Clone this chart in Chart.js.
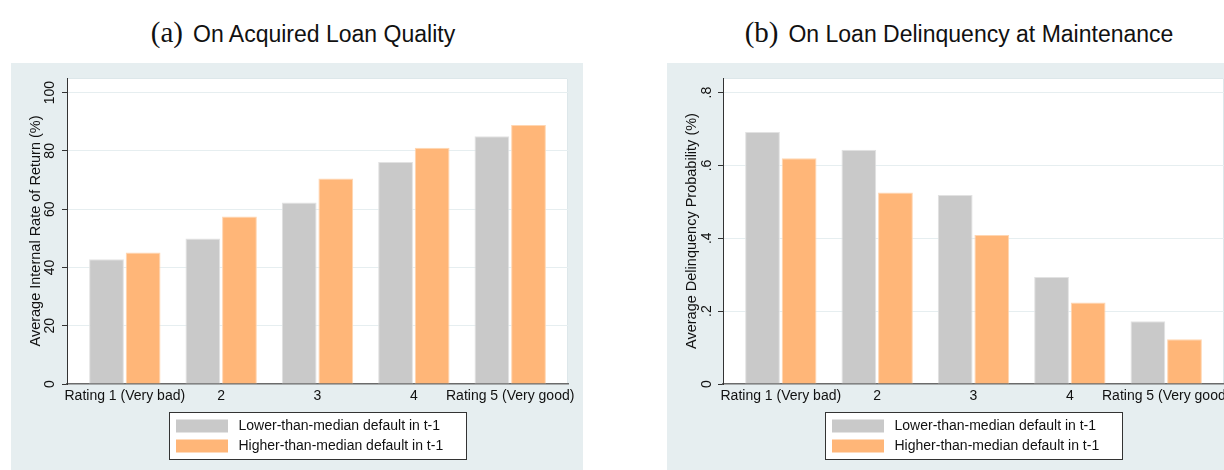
<!DOCTYPE html>
<html>
<head>
<meta charset="utf-8">
<script src="https://cdn.jsdelivr.net/npm/chart.js@4"></script>
<style>
  body { margin: 0; width: 1224px; height: 470px; overflow: hidden; background: #fff; position: relative;
         font-family: "Liberation Sans", Arial, sans-serif; }
  .title { position: absolute; top: 17px; width: 600px; text-align: center; font-size: 23px; line-height: 30px;
           color: #111; white-space: nowrap; }
  .title .tag { font-family: "Liberation Serif", serif; font-size: 29px; margin-right: 10px; }
  .panel { position: absolute; top: 63px; width: 572px; height: 407px; background: #e6eef0; }
</style>
</head>
<body>
<div class="title" style="left:3px"><span class="tag">(a)</span>On Acquired Loan Quality</div>
<div class="title" style="left:659px"><span class="tag">(b)</span>On Loan Delinquency at Maintenance</div>
<div class="panel" style="left:11px"><canvas id="chartA"></canvas></div>
<div class="panel" style="left:667px"><canvas id="chartB"></canvas></div>
<script>
const categories = ["Rating 1 (Very bad)", "2", "3", "4", "Rating 5 (Very good)"];
const seriesNames = ["Lower-than-median default in t-1", "Higher-than-median default in t-1"];
const irrLow = [42.8, 49.9, 62.3, 76.2, 85.0];
const irrHigh = [45.1, 57.5, 70.5, 81.1, 88.9];
const delinqLow = [0.692, 0.643, 0.519, 0.294, 0.172];
const delinqHigh = [0.620, 0.526, 0.409, 0.224, 0.123];
const irrTicks = [0, 20, 40, 60, 80, 100];
const irrTickLabels = ["0", "20", "40", "60", "80", "100"];
const delinqTicks = [0, 0.2, 0.4, 0.6, 0.8];
const delinqTickLabels = ["0", ".2", ".4", ".6", ".8"];

const grey = "#c9c9c9", orange = "#ffb678";
const fontFam = '"Liberation Sans", Arial, sans-serif';
Chart.defaults.font.family = fontFam;

// white plot region on the blue-grey panel
const plotBg = {
  id: "plotBg",
  beforeDraw(chart) {
    const a = chart.chartArea, ctx = chart.ctx;
    ctx.save();
    ctx.fillStyle = "#fff";
    ctx.fillRect(a.left, a.top, a.right - a.left, a.bottom - a.top);
    ctx.strokeStyle = "#dde7ea";
    ctx.lineWidth = 1;
    ctx.beginPath();
    ctx.moveTo(a.left, a.top + 0.5); ctx.lineTo(a.right - 0.5, a.top + 0.5); ctx.lineTo(a.right - 0.5, a.bottom);
    ctx.stroke();
    ctx.restore();
  }
};

// stacked legend in a framed box, centred under the plot
const boxLegend = {
  id: "boxLegend",
  afterDraw(chart) {
    const ctx = chart.ctx, a = chart.chartArea, sets = chart.data.datasets;
    ctx.save();
    ctx.font = "14px " + fontFam;
    const textW = Math.max(...sets.map(d => ctx.measureText(d.label).width));
    const w = Math.round(7 + 52 + 10 + textW + 23), h = 47;
    const x = Math.round((a.left + a.right) / 2 - w / 2) + 0.5;
    const y = Math.round(a.bottom + 28) + 0.5;
    ctx.fillStyle = "#fff";
    ctx.fillRect(x, y, w, h);
    ctx.strokeStyle = "#333";
    ctx.lineWidth = 1;
    ctx.strokeRect(x, y, w, h);
    sets.forEach((d, i) => {
      const cy = y + 13.5 + i * 20;
      ctx.fillStyle = d.backgroundColor;
      ctx.fillRect(x + 6.5, cy - 6.5, 52, 13);
      ctx.fillStyle = "#111";
      ctx.textBaseline = "middle";
      ctx.fillText(d.label, x + 69, cy);
    });
    ctx.restore();
  }
};

function makeChart(id, low, high, yMax, ticks, tickLabels, yTitle, tickPad) {
  return new Chart(document.getElementById(id), {
    type: "bar",
    data: {
      datasets: [
        { label: seriesNames[0], data: low.map((v, i) => ({ x: i + 1, y: v })),
          backgroundColor: grey, borderColor: "#e2e2e2", borderWidth: 1 },
        { label: seriesNames[1], data: high.map((v, i) => ({ x: i + 1, y: v })),
          backgroundColor: orange, borderColor: "#ffd6b2", borderWidth: 1 },
      ],
    },
    options: {
      responsive: true,
      maintainAspectRatio: false,
      animation: false,
      layout: { padding: { top: 15, right: 15, bottom: 66, left: 0 } },
      datasets: { bar: { categoryPercentage: 0.76, barPercentage: 0.95 } },
      plugins: { legend: { display: false }, tooltip: { enabled: false } },
      scales: {
        x: {
          type: "linear",
          min: 0.4,
          max: 5.6,
          offset: false,
          afterBuildTicks: (axis) => { axis.ticks = categories.map((c, i) => ({ value: i + 1 })); },
          afterFit: (axis) => { axis.height = 20; },
          grid: { display: false, drawTicks: false },
          border: { color: "#6b6b6b", width: 1.5 },
          ticks: {
            autoSkip: false, minRotation: 0, maxRotation: 0, padding: 4,
            color: "#111", font: { size: 14 },
            callback: (v) => categories[v - 1],
          },
        },
        y: {
          min: 0,
          max: yMax,
          afterBuildTicks: (axis) => { axis.ticks = ticks.map((v) => ({ value: v })); },
          afterFit: (axis) => { axis.width = 56; },
          grid: {
            color: (c) => (c.tick && c.tick.value === 0 ? "rgba(0,0,0,0)" : "#e6eef0"),
            lineWidth: 1, tickColor: "#333", tickLength: 5,
          },
          border: { color: "#333", width: 1 },
          ticks: {
            minRotation: 90, maxRotation: 90, crossAlign: "center", padding: tickPad,
            color: "#111", font: { size: 14 },
            callback: (v) => tickLabels[ticks.indexOf(v)],
          },
          title: { display: true, text: yTitle, color: "#111", font: { size: 14.5 }, padding: { top: 16, bottom: 0 } },
        },
      },
    },
    plugins: [plotBg, boxLegend],
  });
}

makeChart("chartA", irrLow, irrHigh, 105, irrTicks, irrTickLabels, "Average Internal Rate of Return (%)", 0);
makeChart("chartB", delinqLow, delinqHigh, 0.84, delinqTicks, delinqTickLabels, "Average Delinquency Probability (%)", 5);
</script>
</body>
</html>
